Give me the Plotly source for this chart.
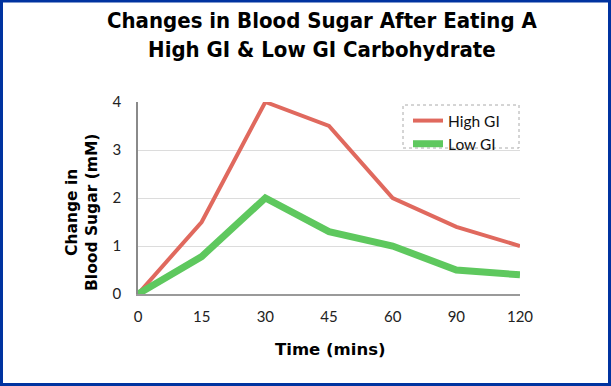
import plotly.graph_objects as go

time_labels = ["0", "15", "30", "45", "60", "90", "120"]
high_gi = [0, 1.5, 4, 3.5, 2, 1.4, 1.0]
low_gi = [0, 0.78, 2, 1.3, 1.0, 0.5, 0.4]

W, H = 611, 386
L, R, T, B = 138, 91, 102, 92
pw, ph = W - L - R, H - T - B

fig = go.Figure()
fig.add_trace(go.Scatter(x=time_labels, y=high_gi, mode="lines", name="High GI",
                         line=dict(color="#e0695e", width=4)))
fig.add_trace(go.Scatter(x=time_labels, y=low_gi, mode="lines", name="Low GI",
                         line=dict(color="#5ec85e", width=7)))

tick_font = dict(family="Lato, Open Sans, sans-serif", size=15, color="#222")
fig.update_layout(
    width=W, height=H,
    margin=dict(l=L, r=R, t=T, b=B),
    paper_bgcolor="white", plot_bgcolor="white",
    showlegend=True,
    legend=dict(x=(408 - L) / pw, y=(294 - 104) / ph, xanchor="left", yanchor="top",
                bgcolor="rgba(0,0,0,0)", borderwidth=0,
                font=dict(family="Lato, Open Sans, sans-serif", size=15.5, color="#111"),
                tracegroupgap=0, itemwidth=30),
    xaxis=dict(type="category", range=[0, 6], showgrid=False, showline=True,
               linecolor="#9a9a9a", linewidth=1.5, ticks="outside", ticklen=8,
               tickcolor="rgba(0,0,0,0)", tickfont=tick_font, zeroline=False),
    yaxis=dict(range=[0, 4], dtick=1, showgrid=True, gridcolor="#dcdcdc", gridwidth=1,
               showline=True, linecolor="#8a8a8a", linewidth=1.5, ticks="outside",
               ticklen=12, tickcolor="rgba(0,0,0,0)", tickfont=tick_font, zeroline=False),
)

def px_x(x):
    return (x - L) / pw

def px_y(y):
    return (H - B - y) / ph

annotations = [
    dict(text="<b>Changes in Blood Sugar After Eating A<br>High GI &amp; Low GI Carbohydrate</b>",
         x=px_x(322), y=px_y(35), xref="paper", yref="paper", showarrow=False,
         font=dict(family="DejaVu Sans Condensed, DejaVu Sans, sans-serif", size=22, color="black"),
         xanchor="center", yanchor="middle", align="center"),
    dict(text="<b>Change in<br>Blood Sugar (mM)</b>", x=px_x(82), y=px_y(213),
         xref="paper", yref="paper", showarrow=False, textangle=-90,
         font=dict(family="DejaVu Sans, sans-serif", size=15.5, color="black"),
         xanchor="center", yanchor="middle", align="center"),
    dict(text="<b>Time (mins)</b>", x=px_x(330), y=px_y(349), xref="paper", yref="paper",
         showarrow=False, font=dict(family="DejaVu Sans, sans-serif", size=16.5, color="black"),
         xanchor="center", yanchor="middle"),
]
fig.update_layout(annotations=annotations)

shapes = [
    dict(type="rect", xref="paper", yref="paper", x0=px_x(403), x1=px_x(519),
         y0=px_y(148), y1=px_y(105), line=dict(color="#aaaaaa", width=1, dash="dot"),
         fillcolor="rgba(0,0,0,0)", layer="above"),
    dict(type="rect", xref="paper", yref="paper", x0=px_x(1.5), x1=px_x(W - 1.5),
         y0=px_y(H - 1.5), y1=px_y(1), line=dict(color="#0033a0", width=3),
         fillcolor="rgba(0,0,0,0)", layer="above"),
]
fig.update_layout(shapes=shapes)

fig.write_html("out.html", config={"displayModeBar": False},
               post_script="document.body.style.margin='0';document.body.style.overflow='hidden';")
